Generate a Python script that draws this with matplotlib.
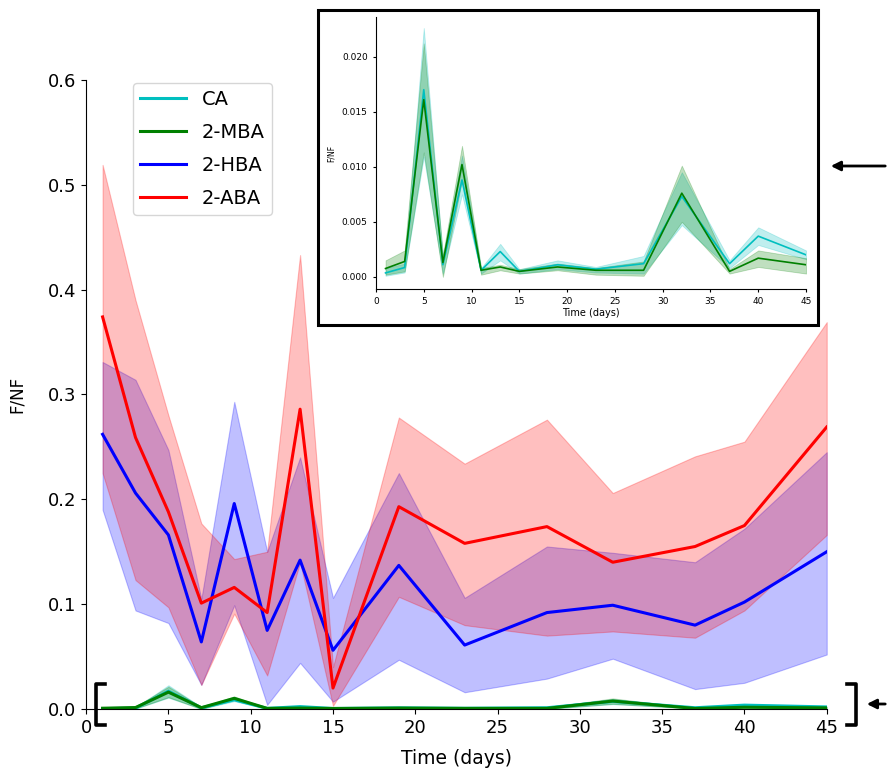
import numpy as np
import matplotlib
matplotlib.use("Agg")
import matplotlib.pyplot as plt
from matplotlib.lines import Line2D
from matplotlib.patches import Rectangle, FancyArrowPatch

# sampling days
days = [1, 3, 5, 7, 9, 11, 13, 15, 19, 23, 28, 32, 37, 40, 45]

# 2-ABA (red)
aba_mean = [0.374, 0.259, 0.188, 0.101, 0.116, 0.092, 0.286, 0.020, 0.193, 0.158, 0.174, 0.140, 0.155, 0.175, 0.269]
aba_low = [0.225, 0.123, 0.097, 0.023, 0.091, 0.032, 0.140, 0.003, 0.107, 0.080, 0.070, 0.074, 0.068, 0.094, 0.166]
aba_high = [0.519, 0.390, 0.280, 0.177, 0.143, 0.150, 0.433, 0.040, 0.278, 0.234, 0.276, 0.206, 0.241, 0.255, 0.369]

# 2-HBA (blue)
hba_mean = [0.262, 0.206, 0.166, 0.064, 0.196, 0.075, 0.142, 0.056, 0.137, 0.061, 0.092, 0.099, 0.080, 0.102, 0.150]
hba_low = [0.190, 0.094, 0.082, 0.023, 0.099, 0.004, 0.044, 0.007, 0.047, 0.016, 0.029, 0.048, 0.019, 0.025, 0.052]
hba_high = [0.331, 0.314, 0.247, 0.105, 0.293, 0.150, 0.240, 0.106, 0.225, 0.106, 0.155, 0.149, 0.140, 0.172, 0.245]

# CA (cyan)
ca_mean = [0.00036, 0.00085, 0.0170, 0.0011, 0.0088, 0.0006, 0.0023, 0.0005, 0.0011, 0.0007, 0.0012, 0.0073, 0.0012, 0.0037, 0.0020]
ca_low = [0.0001, 0.0004, 0.0109, 0.0003, 0.0075, 0.0003, 0.0015, 0.0003, 0.0007, 0.0004, 0.0003, 0.0047, 0.0008, 0.0029, 0.0016]
ca_high = [0.0008, 0.0012, 0.0226, 0.0018, 0.0110, 0.0008, 0.0030, 0.0007, 0.0015, 0.0009, 0.0019, 0.0095, 0.0015, 0.0045, 0.0024]

# 2-MBA (green)
mba_mean = [0.00076, 0.0014, 0.0161, 0.0013, 0.0102, 0.0006, 0.0009, 0.0005, 0.0009, 0.0006, 0.0006, 0.0076, 0.0005, 0.0017, 0.0011]
mba_low = [0.0002, 0.0005, 0.0113, 0.0000, 0.0088, 0.0002, 0.0006, 0.0003, 0.0006, 0.0002, 0.0001, 0.0050, 0.0003, 0.0009, 0.0003]
mba_high = [0.0015, 0.0024, 0.0212, 0.0020, 0.0119, 0.0008, 0.0011, 0.0007, 0.0012, 0.0008, 0.0014, 0.0101, 0.0007, 0.0024, 0.0017]

series = [
    ("CA", "c", ca_mean, ca_low, ca_high),
    ("2-MBA", "g", mba_mean, mba_low, mba_high),
    ("2-HBA", "b", hba_mean, hba_low, hba_high),
    ("2-ABA", "r", aba_mean, aba_low, aba_high),
]

fig = plt.figure(figsize=(8.88, 7.69), dpi=100)

# main axes
ax = fig.add_axes([0.097, 0.078, 0.834, 0.818])
for name, col, m, lo, hi in series:
    ax.fill_between(days, lo, hi, color=col, alpha=0.25, linewidth=0.8)
    ax.plot(days, m, color=col, linewidth=2.2, label=name)
ax.set_xlim(0, 45)
ax.set_ylim(0, 0.6)
ax.set_xticks(range(0, 46, 5))
ax.set_yticks(np.arange(0, 0.61, 0.1))
ax.tick_params(labelsize=13)
ax.set_xlabel("Time (days)", fontsize=13.5, labelpad=9)
ax.set_ylabel("F/NF", fontsize=12, labelpad=16)
ax.spines["top"].set_visible(False)
ax.spines["right"].set_visible(False)
ax.legend(loc="upper left", bbox_to_anchor=(0.05, 1.01), fontsize=14,
          handlelength=2.4, labelspacing=0.72, borderpad=0.35)

# framed inset
fig.patches.append(Rectangle((0.358, 0.5774), 0.563, 0.4096, transform=fig.transFigure,
                             fill=False, edgecolor="black", linewidth=2.2))
ins = fig.add_axes([0.4234, 0.6242, 0.4843, 0.3537])
for name, col, m, lo, hi in series[:2]:
    ins.fill_between(days, lo, hi, color=col, alpha=0.25, linewidth=0.6)
    ins.plot(days, m, color=col, linewidth=1.2)
ins.set_xlim(0, 45)
ins.set_ylim(-0.0011, 0.0236)
ins.set_xticks(range(0, 46, 5))
ins.set_yticks([0, 0.005, 0.01, 0.015, 0.02])
ins.set_yticklabels(["0.000", "0.005", "0.010", "0.015", "0.020"])
ins.tick_params(labelsize=6.5, length=2.5)
ins.set_xlabel("Time (days)", fontsize=7, labelpad=1)
ins.set_ylabel("F/NF", fontsize=5.5)
ins.spines["top"].set_visible(False)
ins.spines["right"].set_visible(False)

# brackets around the low-value band
def bracket(x, side):
    w = 0.01 * side
    xs = [x + w, x, x, x + w]
    ys = [1 - 684 / 769, 1 - 684 / 769, 1 - 725 / 769, 1 - 725 / 769]
    fig.lines.append(Line2D(xs, ys, transform=fig.transFigure, color="black", linewidth=2.6))

bracket(96 / 888, 1)
bracket(856 / 888, -1)

# arrows
fig.add_artist(FancyArrowPatch(
    (1.0, 1 - 166 / 769), (828 / 888, 1 - 166 / 769), transform=fig.transFigure,
    arrowstyle="-|>", mutation_scale=14, color="black", linewidth=2))
fig.add_artist(FancyArrowPatch(
    (1.0, 1 - 704 / 769), (864 / 888, 1 - 704 / 769), transform=fig.transFigure,
    arrowstyle="-|>", mutation_scale=14, color="black", linewidth=2))

fig.savefig("out.png", dpi=100)
